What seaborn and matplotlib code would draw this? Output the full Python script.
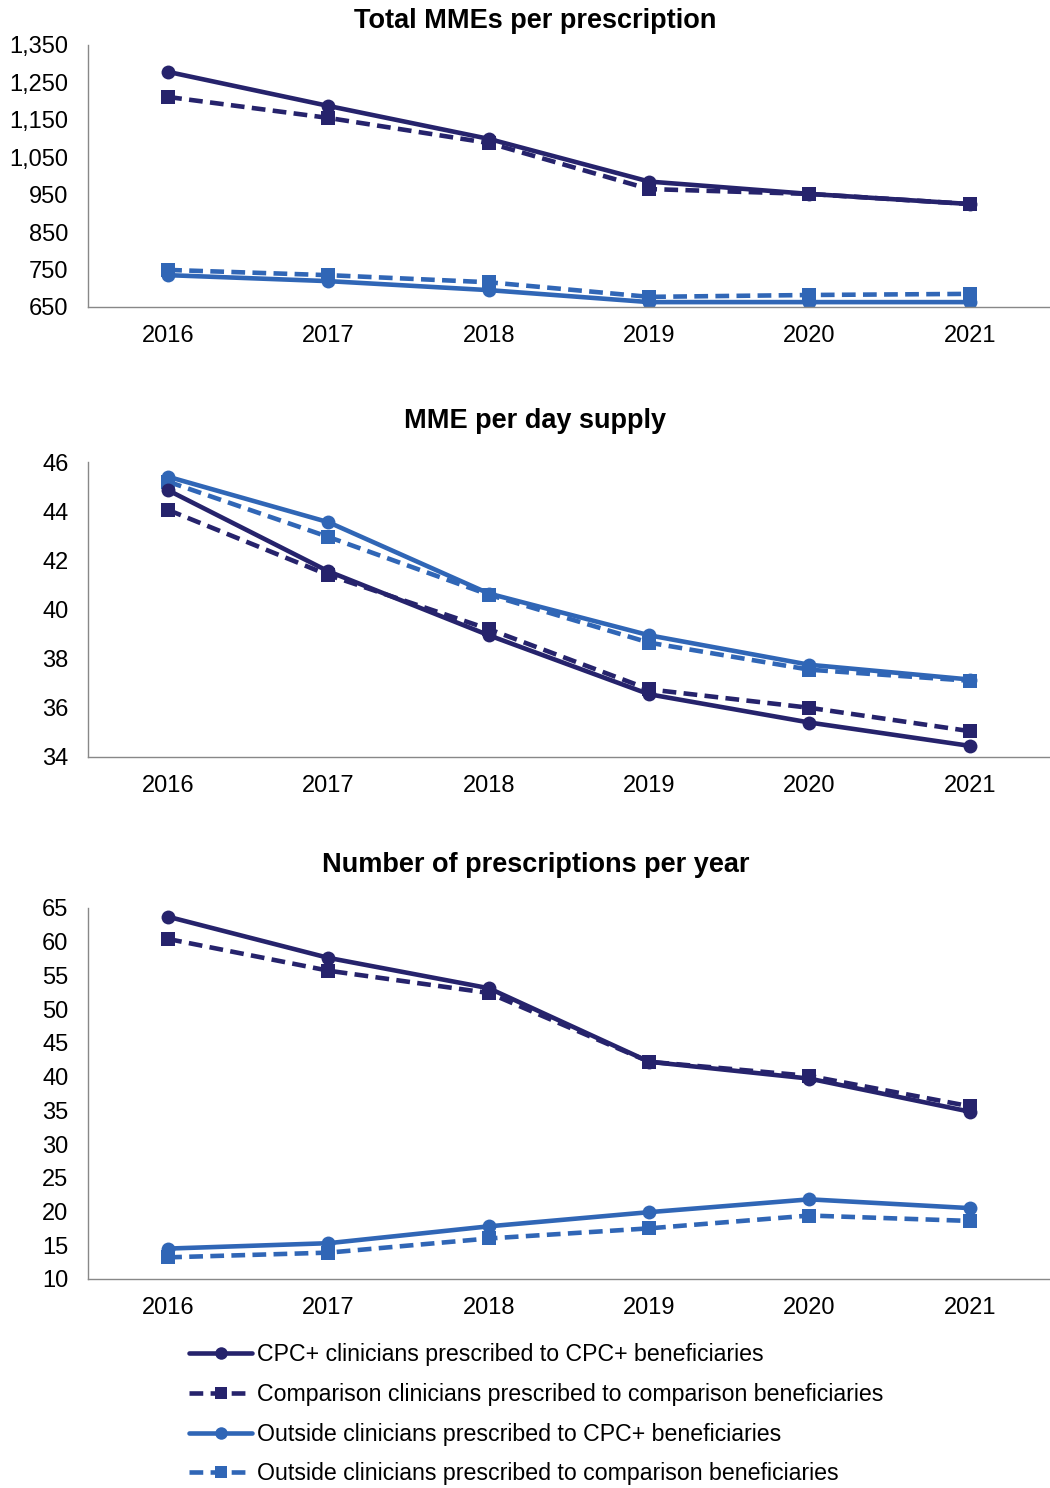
import pandas as pd
import numpy as np
import matplotlib
matplotlib.use("Agg")
import matplotlib.pyplot as plt
from matplotlib.lines import Line2D
from matplotlib.ticker import FuncFormatter
import seaborn as sns

years = [2016, 2017, 2018, 2019, 2020, 2021]
series = ["CPC+ clinicians prescribed to CPC+ beneficiaries",
          "Comparison clinicians prescribed to comparison beneficiaries",
          "Outside clinicians prescribed to CPC+ beneficiaries",
          "Outside clinicians prescribed to comparison beneficiaries"]

# Total MMEs per prescription
mme_cpc = [1278, 1187, 1099, 985, 952, 925]
mme_comp = [1211, 1155, 1088, 965, 952, 925]
mme_out_cpc = [735, 719, 695, 663, 663, 663]
mme_out_comp = [749, 735, 716, 677, 682, 685]

# MME per day supply
day_cpc = [44.85, 41.55, 38.95, 36.55, 35.4, 34.45]
day_comp = [44.05, 41.4, 39.2, 36.75, 36.0, 35.05]
day_out_cpc = [45.4, 43.55, 40.65, 38.95, 37.75, 37.15]
day_out_comp = [45.2, 42.95, 40.6, 38.65, 37.55, 37.1]

# Number of prescriptions per year
rx_cpc = [63.7, 57.6, 53.1, 42.2, 39.7, 34.8]
rx_comp = [60.4, 55.7, 52.4, 42.2, 40.1, 35.6]
rx_out_cpc = [14.5, 15.3, 17.8, 19.9, 21.8, 20.5]
rx_out_comp = [13.2, 13.9, 16.0, 17.5, 19.4, 18.6]

panels = [
    ("Total MMEs per prescription", [mme_cpc, mme_comp, mme_out_cpc, mme_out_comp],
     (650, 1350), np.arange(650, 1351, 100), True),
    ("MME per day supply", [day_cpc, day_comp, day_out_cpc, day_out_comp],
     (34, 46), np.arange(34, 47, 2), False),
    ("Number of prescriptions per year", [rx_cpc, rx_comp, rx_out_cpc, rx_out_comp],
     (10, 65), np.arange(10, 66, 5), False),
]

dark = "#26236C"
light = "#3066B6"
palette = {series[0]: dark, series[1]: dark, series[2]: light, series[3]: light}
dashes = {series[0]: "", series[1]: (3, 1.6), series[2]: "", series[3]: (3, 1.6)}
markers = {series[0]: "o", series[1]: "s", series[2]: "o", series[3]: "s"}

sns.set_style("white")
plt.rcParams['font.family'] = ['Liberation Sans', 'DejaVu Sans']
plt.rcParams['text.color'] = 'black'
plt.rcParams['xtick.labelcolor'] = 'black'
plt.rcParams['ytick.labelcolor'] = 'black'

fig = plt.figure(figsize=(10.5, 14.88), dpi=100)
rects = [[0.0838, 0.7937, 0.9162, 0.1761],
         [0.0838, 0.4913, 0.9162, 0.1982],
         [0.0838, 0.1405, 0.9162, 0.2493]]
title_y = [0.986, 0.717, 0.419]

for (title, vals, ylim, yticks, comma), rect, ty in zip(panels, rects, title_y):
    ax = fig.add_axes(rect)
    rows = []
    for name, v in zip(series, vals):
        for yr, val in zip(years, v):
            rows.append({"Year": yr, "Value": val, "Series": name})
    df = pd.DataFrame(rows)
    sns.lineplot(data=df, x="Year", y="Value", hue="Series", style="Series",
                 hue_order=series[::-1], style_order=series[::-1],
                 palette=palette, dashes=dashes, markers=markers,
                 linewidth=3.3, markersize=10, markeredgewidth=0,
                 legend=False, ax=ax)
    ax.set_xlim(2015.5, 2021.5)
    ax.set_ylim(*ylim)
    ax.set_yticks(yticks)
    if comma:
        ax.yaxis.set_major_formatter(FuncFormatter(lambda v, p: f"{int(v):,}"))
    ax.set_xticks(years)
    ax.set_xticks(np.arange(2015.5, 2021.6, 1), minor=True)
    ax.tick_params(axis="x", which="major", length=0, labelsize=17, pad=13)
    ax.tick_params(axis="x", which="minor", length=6, color="#888888", direction="out")
    ax.tick_params(axis="y", which="major", length=4, color="#888888", labelsize=17, pad=10)
    ax.set_xlabel("")
    ax.set_ylabel("")
    for s in ["top", "right"]:
        ax.spines[s].set_visible(False)
    for s in ["left", "bottom"]:
        ax.spines[s].set_color("#888888")
        ax.spines[s].set_linewidth(1)
    fig.text(0.51, ty, title, ha="center", va="center", fontsize=19.5, fontweight="bold")

handles = [Line2D([], [], color=palette[s], linewidth=3.3,
                  linestyle="-" if dashes[s] == "" else (0, dashes[s]),
                  marker=markers[s], markersize=9, markeredgewidth=0)
           for s in series]
fig.legend(handles, series, loc="upper left", bbox_to_anchor=(0.1715, 0.1035),
           frameon=False, fontsize=16.7, handlelength=2.7, handletextpad=0.2,
           labelspacing=0.72, numpoints=1, borderaxespad=0)

fig.savefig("out.png", dpi=100)
